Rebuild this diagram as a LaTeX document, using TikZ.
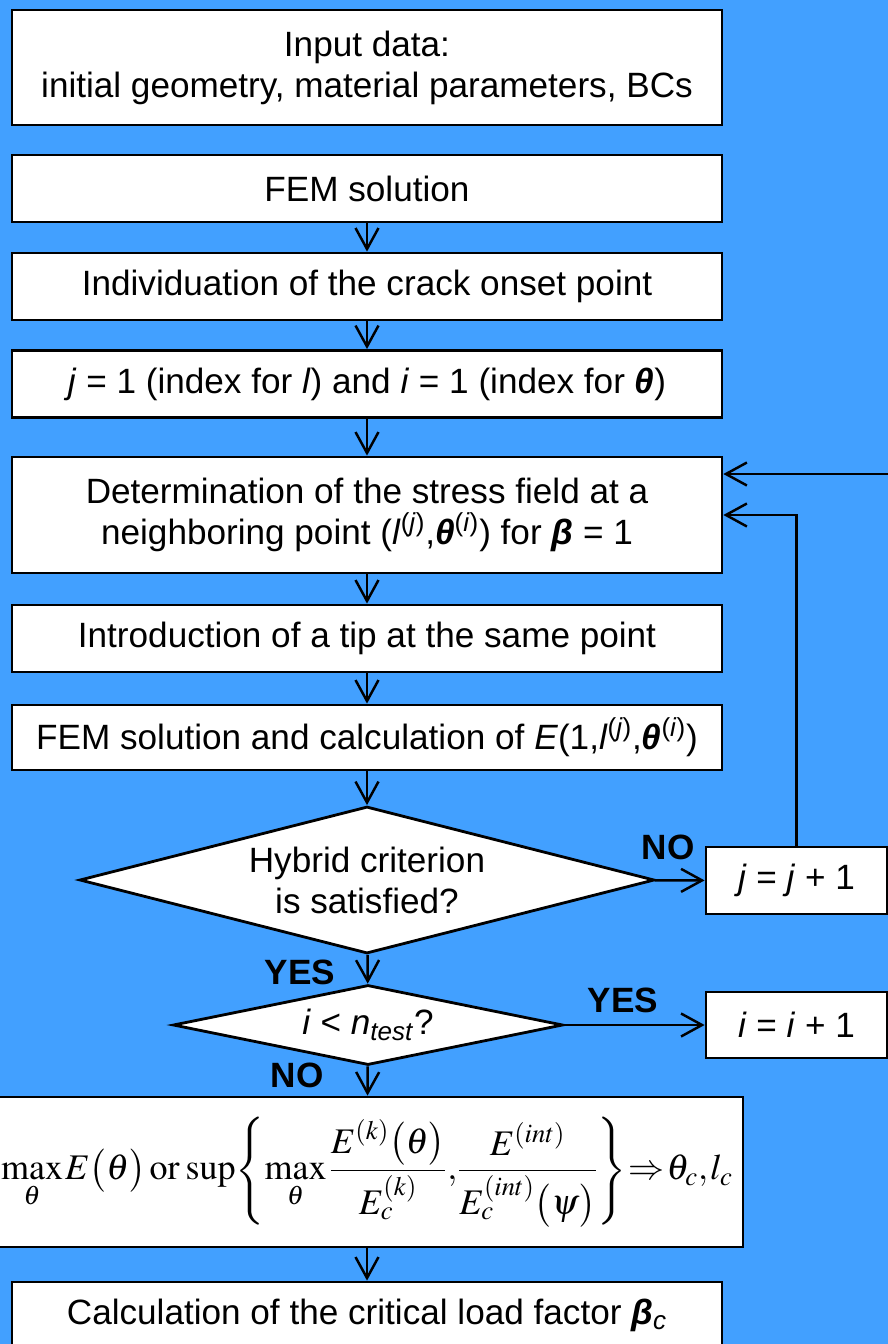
\documentclass[tikz,border=0pt]{standalone}
\usepackage{mathptmx}
\usepackage[no-math]{fontspec}
\setmainfont{Liberation Sans}
\usetikzlibrary{arrows.meta,shapes.geometric}
\definecolor{sheet}{RGB}{66,160,255}

\begin{document}
\begin{tikzpicture}[x=0.02cm, y=-0.02cm,
            every node/.style={font=\fontsize{20}{23.3}\selectfont, align=center},
            box/.style={draw, fill=white, line width=1.6pt, inner sep=0pt,
                        minimum width=14.2cm, minimum height=1.34cm},
            sidebox/.style={box, minimum width=3.62cm},
            choice/.style={draw, fill=white, diamond, line width=1.6pt, inner sep=0pt},
            flow/.style={line width=1.4pt, -{Straight Barb[length=0.42cm, width=0.46cm]}},
            tag/.style={font=\fontsize{20}{24}\selectfont\bfseries}]
\useasboundingbox (0,0) rectangle (888,1344);
\clip (0,0) rectangle (888,1344);
\fill[sheet] (0,0) rectangle (888,1344);

% main column
\node[box, minimum height=2.3cm] (input) at (367,67.5)
    {Input data:\\initial geometry, material parameters, BCs};
\node[box] (fem) at (367,188.5) {FEM solution};
\node[box] (onset) at (367,286.5) {Individuation of the crack onset point};
\node[box] (index) at (367,384)
    {\textit{j} = 1 (index for \textit{l}) and \textit{i} = 1 (index for \textbf{\textit{θ}})};
\node[box, minimum height=2.32cm] (stress) at (367,515)
    {Determination of the stress field at a\\neighboring point
     (\textit{l}\textsuperscript{(\textit{j})},\textbf{\textit{θ}}\textsuperscript{(\textit{i})})
     for \textbf{\textit{β}} = 1};
\node[box] (tip) at (367,638.5) {Introduction of a tip at the same point};
\node[box, minimum height=1.3cm] (energy) at (367,737.5)
    {FEM solution and calculation of
     \textit{E}(1,\textit{l}\textsuperscript{(\textit{j})},\textbf{\textit{θ}}\textsuperscript{(\textit{i})})};
\node[choice, shape aspect=3.9, minimum width=11.5cm, minimum height=2.94cm] (hybrid) at (367,880)
    {Hybrid criterion\\is satisfied?};
\node[choice, shape aspect=4.9, minimum width=7.8cm, minimum height=1.6cm] (test) at (368,1025)
    {\textit{i} < \textit{n}\textsubscript{\textit{test}}?};
% selection of the critical angle and length
\node[box, minimum width=15.04cm, minimum height=3cm,
      font=\fontsize{20.5}{24}\selectfont] (crit) at (367,1172)
    {$\thinmuskip=1mu\relax\medmuskip=1mu\relax\thickmuskip=2mu\relax
     \displaystyle \max_{\theta}E\bigl(\theta\bigr)\;\mathrm{or}\;\,\mathrm{sup}\!\left\{\max_{\theta}
     \frac{E^{(k)}\bigl(\theta\bigr)}{E_c^{(k)}\vrule height 17pt width 0pt},\!
     \frac{E^{(int)}}{E_c^{(int)}\bigl(\psi\bigr)}\right\}\!\Rightarrow\!\theta_c,l_c$};
\node[box] (load) at (367,1315.5)
    {Calculation of the critical load factor \textbf{\textit{β}}\textsubscript{\textit{c}}};

% counters on the right
\node[sidebox] (jinc) at (796.5,880.5) {\textit{j} = \textit{j} + 1};
\node[sidebox, minimum height=1.32cm] (iinc) at (796.5,1025) {\textit{i} = \textit{i} + 1};

\node[tag] (no1) at (668,847) {NO};
\node[tag] (yes1) at (623,1000) {YES};
\node[tag] (yes2) at (300,972) {YES};
\node[tag] (no2) at (297,1075) {NO};

\draw[flow] (fem) -- (onset);
\draw[flow] (onset) -- (index);
\draw[flow] (index) -- (stress);
\draw[flow] (stress) -- (tip);
\draw[flow] (tip) -- (energy);
\draw[flow] (energy) -- (hybrid);
\draw[flow] (hybrid) -- (test);
\draw[flow] (test) -- (crit);
\draw[flow] (crit) -- (load);
\draw[flow] (hybrid) -- (jinc);
\draw[flow] (test) -- (iinc);

% loops back
\draw[flow] (jinc.north) |- (stress.east);
\draw[flow] (iinc.east) -- ++(20,0) |- ([yshift=0.82cm]stress.east);

\end{tikzpicture}
\end{document}
